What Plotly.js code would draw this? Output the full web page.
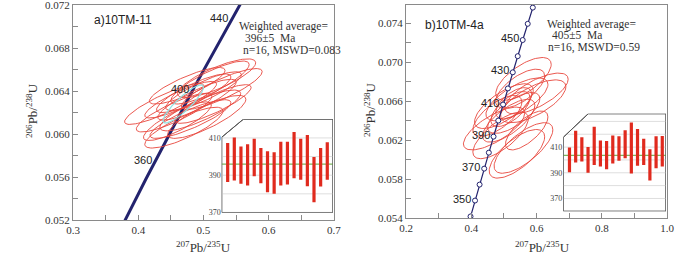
<!DOCTYPE html>
<html>
<head>
<meta charset="utf-8">
<script src="https://cdn.plot.ly/plotly-3.0.1.min.js"></script>
<style>html,body{margin:0;padding:0;background:#fff}#chart{width:700px;height:255px}</style>
</head>
<body>
<div id="chart"></div>
<script>
// ---------------- DATA ----------------
// Panel a) 10TM-11 : error ellipses (207Pb/235U, 206Pb/238U)
const aX   = [0.440,0.455,0.470,0.480,0.490,0.500,0.510,0.528,0.520,0.495,0.465,0.485,0.505,0.460,0.515,0.475];
const aSX  = [0.061,0.058,0.060,0.062,0.060,0.058,0.060,0.062,0.060,0.062,0.055,0.057,0.060,0.052,0.058,0.058];
const aY   = [0.0628,0.0620,0.0606,0.0614,0.0632,0.0640,0.0648,0.0642,0.0652,0.0622,0.0632,0.0638,0.0616,0.0612,0.0628,0.0645];
const aSY  = [0.0019,0.0018,0.0019,0.0018,0.0019,0.0018,0.0020,0.0019,0.0018,0.0019,0.0017,0.0018,0.0020,0.0018,0.0018,0.0017];
const aRho = [0.87,0.85,0.82,0.85,0.86,0.85,0.84,0.85,0.80,0.83,0.86,0.85,0.82,0.84,0.86,0.84];
// mean (concordia) ellipse of panel a
const aMean = {x:0.469, sx:0.031, y:0.0628, sy:0.00177, rho:0.88};
// inset a: 206Pb/238U ages (Ma), top and bottom of each bar
const aAgeTop = [407.3,410.2,405.4,406.6,409.5,404.6,402.9,402.3,407.9,407.9,413.2,409.6,411.6,399.8,404.6,407.7];
const aAgeBot = [386.3,387.1,385.4,384.5,389.5,385.7,380.9,380.0,384.5,385.0,388.4,387.5,384.1,375.5,384.0,387.5];
const aWMean = 396;
const aConcLabels = [360,400,440];
const aXTicks = [0.3,0.4,0.5,0.6,0.7];
const aYTicks = [0.052,0.056,0.060,0.064,0.068,0.072];

// Panel b) 10TM-4a
const bX   = [0.470,0.500,0.540,0.490,0.560,0.530,0.515,0.590,0.600,0.560,0.540,0.480,0.550,0.520,0.570,0.530];
const bSX  = [0.094,0.090,0.095,0.085,0.085,0.080,0.080,0.100,0.097,0.090,0.085,0.075,0.075,0.060,0.065,0.055];
const bY   = [0.0632,0.0655,0.0662,0.0625,0.0683,0.0648,0.0640,0.0660,0.0668,0.0612,0.0606,0.0645,0.0673,0.0652,0.0630,0.0658];
const bSY  = [0.0022,0.0023,0.0022,0.0024,0.0022,0.0021,0.0022,0.0022,0.0021,0.0026,0.0025,0.0021,0.0020,0.0018,0.0020,0.0016];
const bRho = [0.72,0.70,0.70,0.72,0.68,0.70,0.72,0.68,0.70,0.72,0.70,0.68,0.66,0.65,0.70,0.60];
const bAgeTop = [409.7,422.8,417.6,410.0,425.9,415.2,414.7,419.1,418.4,423.1,429.1,424.1,416.5,408.4,418.4,418.6];
const bAgeBot = [390.4,398.0,398.8,390.1,396.1,394.8,392.7,397.2,399.3,401.4,389.4,395.4,396.1,383.9,393.5,394.8];
const bWMean = 403.5;
const bConcMarkers = [340,350,360,370,380,390,400,410,420,430,440,450,460,470];
const bConcLabels = [350,370,390,410,430,450];
const bXTicks = [0.2,0.4,0.6,0.8,1.0];
const bYTicks = [0.054,0.058,0.062,0.066,0.070,0.074];
const insetTicks = [370,390,410];

// text
const aName = "a)10TM-11", bName = "b)10TM-4a";
const aStats = ["Weighted average=", "&nbsp;396±5&nbsp;&nbsp;Ma", "n=16, MSWD=0.083"];
const bStats = ["Weighted average=", "&nbsp;405±5&nbsp;&nbsp;Ma", "n=16, MSWD=0.59"];

// ---------------- HELPERS ----------------
const L238 = 1.55125e-10, L235 = 9.8485e-10;
function concX(t){ return Math.exp(L235*t*1e6)-1; }
function concY(t){ return Math.exp(L238*t*1e6)-1; }
function ellipse(cx,sx,cy,sy,rho){
  const xs=[],ys=[],n=90,k=Math.sqrt(1-rho*rho);
  for(let i=0;i<=n;i++){const a=2*Math.PI*i/n;xs.push(cx+sx*Math.cos(a));ys.push(cy+sy*(rho*Math.cos(a)+k*Math.sin(a)));}
  return {xs,ys};
}
const RED='#e8463c', NAVY='#23236e', SERIF='Liberation Serif, Times New Roman, serif', SANS='Liberation Sans, Arial, sans-serif';
const traces=[];
function addEllipses(X,SX,Y,SY,R,xa,ya){
  for(let i=0;i<X.length;i++){const e=ellipse(X[i],SX[i],Y[i],SY[i],R[i]);
    traces.push({type:'scatter',mode:'lines',x:e.xs,y:e.ys,xaxis:xa,yaxis:ya,line:{color:RED,width:0.9},hoverinfo:'skip',showlegend:false});}
}
// concordia a
(function(){const xs=[],ys=[];for(let t=300;t<=470;t+=2){xs.push(concX(t));ys.push(concY(t));}
  traces.push({type:'scatter',mode:'lines',x:xs,y:ys,xaxis:'x',yaxis:'y',line:{color:NAVY,width:3},showlegend:false,hoverinfo:'skip'});})();
addEllipses(aX,aSX,aY,aSY,aRho,'x','y');
(function(){const e=ellipse(aMean.x,aMean.sx,aMean.y,aMean.sy,aMean.rho);
  traces.push({type:'scatter',mode:'lines',x:e.xs,y:e.ys,xaxis:'x',yaxis:'y',line:{color:'#8fe0e0',width:1.2},showlegend:false,hoverinfo:'skip'});})();
// concordia b
addEllipses(bX,bSX,bY,bSY,bRho,'x2','y2');
(function(){const xs=[],ys=[];for(let t=330;t<=480;t+=2){xs.push(concX(t));ys.push(concY(t));}
  traces.push({type:'scatter',mode:'lines',x:xs,y:ys,xaxis:'x2',yaxis:'y2',line:{color:NAVY,width:1.2},showlegend:false,hoverinfo:'skip'});
  traces.push({type:'scatter',mode:'markers',x:bConcMarkers.map(concX),y:bConcMarkers.map(concY),xaxis:'x2',yaxis:'y2',
    marker:{size:5,color:'#fff',line:{color:NAVY,width:1}},showlegend:false,hoverinfo:'skip'});})();

// insets
function addInset(top,bot,wm,xr,yr,gridVals,cfx,cfy,xa,ya){
  const x0=xr[0],x1=xr[1],y0=yr[0],y1=yr[1];
  const cx=x0+(x1-x0)*cfx, cy=y1-(y1-y0)*cfy;
  traces.push({type:'scatter',mode:'lines',x:[x0,x0,cx,x1,x1,x0],y:[y0,cy,y1,y1,y0,y0],fill:'toself',fillcolor:'#fff',
    line:{color:'#555',width:1},xaxis:xa,yaxis:ya,showlegend:false,hoverinfo:'skip'});
  const gx=[],gy=[];
  gridVals.forEach(v=>{let s=x0; if(v>cy){s=x0+(cx-x0)*(v-cy)/(y1-cy);} gx.push(s,x1,null); gy.push(v,v,null);});
  traces.push({type:'scatter',mode:'lines',x:gx,y:gy,line:{color:'#dedede',width:1},xaxis:xa,yaxis:ya,showlegend:false,hoverinfo:'skip'});
  traces.push({type:'scatter',mode:'lines',x:[x0,x1],y:[wm,wm],line:{color:'#7cb65e',width:1.2},xaxis:xa,yaxis:ya,showlegend:false,hoverinfo:'skip'});
  const bx=[],by=[];
  top.forEach((t,i)=>{bx.push(i+1,i+1,null);by.push(bot[i],t,null);});
  traces.push({type:'scatter',mode:'lines',x:bx,y:by,line:{color:'#e02a1e',width:3.2},xaxis:xa,yaxis:ya,showlegend:false,hoverinfo:'skip'});
  traces.push({type:'scatter',mode:'lines',x:[x0,x0,cx,x1,x1,x0],y:[y0,cy,y1,y1,y0,y0],
    line:{color:'#555',width:1},xaxis:xa,yaxis:ya,showlegend:false,hoverinfo:'skip'});
}
const aInX=[0.1,16.86], aInY=[370,420], bInX=[0,16.6], bInY=[360,436];
addInset(aAgeTop,aAgeBot,aWMean,aInX,aInY,[380,390,400,410],0.194,0.193,'x3','y3');
addInset(bAgeTop,bAgeBot,bWMean,bInX,bInY,[370,380,390,400,410,420,430],0.243,0.242,'x4','y4');

// ---------------- LAYOUT ----------------
const AX={showline:true,mirror:true,linecolor:'#8a8a8a',linewidth:1,ticks:'inside',ticklen:5,tickcolor:'#8a8a8a',
  showgrid:false,zeroline:false,tickfont:{family:SERIF,size:11,color:'#333'},fixedrange:true,ticklabeloverflow:'allow'};
function mainAx(o){return Object.assign({},AX,o);}
const inY={showline:false,showgrid:false,zeroline:false,ticks:'',tickvals:insetTicks,tickfont:{family:SERIF,size:8,color:'#444'},fixedrange:true,ticklabeloverflow:'allow'};
const annotations=[];
function ann(text,x,y,xref,yref,o){annotations.push(Object.assign({text,x,y,xref,yref,showarrow:false,xanchor:'left',yanchor:'middle'},o||{}));}
const SF={family:SERIF,size:11.5,color:'#333'};
ann(aName,0.329,0.0706,'x','y',{font:{family:SANS,size:12,color:'#222'}});
ann(aStats[0],0.552,0.07005,'x','y',{font:SF});
ann(aStats[1],0.556,0.06893,'x','y',{font:SF});
ann(aStats[2],0.557,0.06781,'x','y',{font:SF});
ann(bName,0.252,0.0738,'x2','y2',{font:{family:SANS,size:12,color:'#222'}});
ann(bStats[0],0.626,0.0739,'x2','y2',{font:SF});
ann(bStats[1],0.632,0.07277,'x2','y2',{font:SF});
ann(bStats[2],0.629,0.07154,'x2','y2',{font:SF});
aConcLabels.forEach(t=>ann(String(t),concX(t),concY(t),'x','y',{xanchor:'right',xshift:-1,yshift:2,font:{family:SANS,size:11,color:'#222'}}));
bConcLabels.forEach(t=>ann(String(t),concX(t),concY(t),'x2','y2',{xanchor:'right',xshift:-2,yshift:2,font:{family:SANS,size:11,color:'#222'}}));
const xT='<sup>207</sup>Pb/<sup>235</sup>U', yT='<sup>206</sup>Pb/<sup>238</sup>U';
ann(xT,0.29,0.03,'paper','paper',{xanchor:'center',font:{family:SERIF,size:13,color:'#333'}});
ann(xT,0.775,0.03,'paper','paper',{xanchor:'center',font:{family:SERIF,size:13,color:'#333'}});
ann(yT,0.0457,0.5686,'paper','paper',{xanchor:'center',textangle:-90,font:{family:SERIF,size:13,color:'#333'}});
ann(yT,0.5286,0.5686,'paper','paper',{xanchor:'center',textangle:-90,font:{family:SERIF,size:13,color:'#333'}});

const layout={width:700,height:255,margin:{l:0,r:0,t:0,b:0},paper_bgcolor:'#fff',plot_bgcolor:'rgba(0,0,0,0)',showlegend:false,
  xaxis:mainAx({domain:[0.1043,0.4771],range:[0.3,0.70001],anchor:'y',tickvals:aXTicks,ticktext:aXTicks.map(v=>v.toFixed(1)),
    minor:{dtick:0.05,ticks:'inside',ticklen:5,tickcolor:'#8a8a8a'}}),
  yaxis:mainAx({domain:[0.1373,0.9804],range:[0.052,0.07202],anchor:'x',tickvals:aYTicks,ticktext:aYTicks.map(v=>v.toFixed(3)),
    minor:{dtick:0.002,ticks:'inside',ticklen:5,tickcolor:'#8a8a8a'}}),
  xaxis2:mainAx({domain:[0.58,0.9529],range:[0.2,1.00001],anchor:'y2',tickvals:bXTicks,ticktext:bXTicks.map(v=>v.toFixed(1)),
    minor:{dtick:0.1,ticks:'inside',ticklen:5,tickcolor:'#8a8a8a'}}),
  yaxis2:mainAx({domain:[0.1451,0.9804],range:[0.054,0.0759],anchor:'x2',tickvals:bYTicks,ticktext:bYTicks.map(v=>v.toFixed(3)),
    minor:{dtick:0.002,ticks:'inside',ticklen:5,tickcolor:'#8a8a8a'}}),
  xaxis3:{domain:[0.3167,0.4757],range:aInX,anchor:'y3',visible:false,fixedrange:true},
  yaxis3:Object.assign({},inY,{domain:[0.1667,0.5322],range:aInY,anchor:'x3'}),
  xaxis4:{domain:[0.8047,0.9514],range:bInX,anchor:'y4',visible:false,fixedrange:true},
  yaxis4:Object.assign({},inY,{domain:[0.1714,0.5541],range:bInY,anchor:'x4'}),
  annotations};
Plotly.newPlot('chart',traces,layout,{staticPlot:true,displayModeBar:false});
</script>
</body>
</html>
